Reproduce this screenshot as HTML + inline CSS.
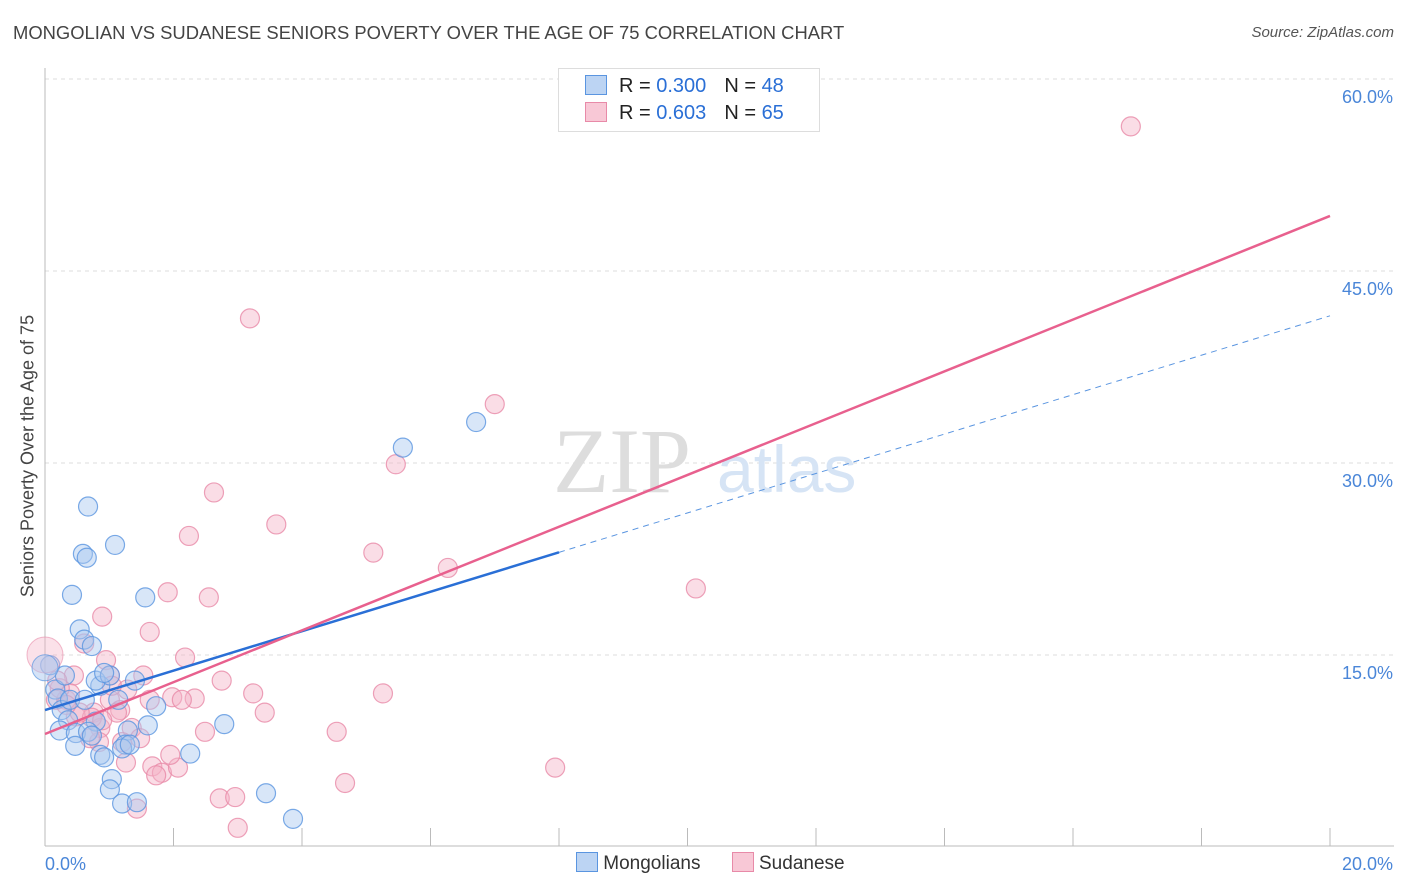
<!DOCTYPE html>
<html><head><meta charset="utf-8"><style>
body{margin:0;background:#fff;font-family:"Liberation Sans",sans-serif;}
#wrap{position:relative;width:1406px;height:892px;overflow:hidden;}
.t{position:absolute;white-space:nowrap;}
</style></head><body>
<div id="wrap">
<div class="t" style="left:13px;top:22px;font-size:18.4px;color:#444;">MONGOLIAN VS SUDANESE SENIORS POVERTY OVER THE AGE OF 75 CORRELATION CHART</div>
<div class="t" style="right:12px;top:24px;font-size:15px;color:#555;font-style:italic;">Source: ZipAtlas.com</div>
<div class="t" style="left:28px;top:456px;font-size:18px;color:#444;transform:translate(-50%,-50%) rotate(-90deg);">Seniors Poverty Over the Age of 75</div>
<svg id="svg" width="1406" height="892" style="position:absolute;left:0;top:0"></svg>
</div>
<script>
const yTicks=[15,30,45,60];
const yTickLabels=["15.0%","30.0%","45.0%","60.0%"];
const xTicks=[0,2,4,6,8,10,12,14,16,18,20];
const mongX=[0.67,1.09,0.59,0.65,0.42,1.56,0.54,0.61,0.73,0.08,0.16,0.31,0.86,0.79,1.01,0.92,1.40,0.20,0.26,0.36,0.79,1.60,0.23,0.48,0.67,0.73,1.29,1.73,2.79,0.47,1.25,1.20,0.86,0.92,2.26,1.04,1.01,1.20,1.43,3.44,3.86,5.57,6.71,1.32,1.14,0.39,0.62];
const mongY=[26.6,23.6,22.9,22.6,19.7,19.5,17.0,16.2,15.7,14.2,12.3,13.4,12.6,13.0,13.4,13.6,13.0,11.6,10.7,9.9,9.8,9.5,9.1,8.9,9.0,8.7,9.1,11.0,9.6,7.9,8.0,7.7,7.2,7.0,7.3,5.3,4.5,3.4,3.5,4.2,2.2,31.2,33.2,8.0,11.5,11.5,11.5];
const sudX=[16.90,3.19,7.00,5.46,2.63,3.60,2.24,5.11,6.27,10.13,1.91,2.55,0.89,1.63,0.61,2.18,0.95,0.45,1.53,1.01,1.28,2.75,3.24,5.26,0.17,1.98,2.33,2.13,0.33,0.39,1.01,1.17,1.12,0.76,3.42,0.48,0.86,1.35,0.84,2.49,4.54,1.20,0.70,1.48,1.26,1.67,1.82,1.73,2.07,4.67,2.72,2.96,7.94,3.00,1.43,0.73,1.04,0.23,0.54,0.19,1.63,1.95,0.89,0.33];
const sudY=[56.3,41.3,34.6,29.9,27.7,25.2,24.3,23.0,21.8,20.2,19.9,19.5,18.0,16.8,15.9,14.8,14.6,13.4,13.4,13.4,12.3,13.0,12.0,12.0,11.5,11.7,11.6,11.5,11.5,12.0,11.5,10.7,10.5,10.5,10.5,10.2,9.3,9.3,8.2,9.0,9.0,8.2,8.5,8.5,6.6,6.3,5.8,5.6,6.2,5.0,3.8,3.9,6.2,1.5,3.0,10.1,12.6,12.4,10.5,13.0,11.5,7.2,9.9,11.1];
const mongBig=[[0,14.0]];
const sudBig=[[0,15.0]];
const mongLine=[10.7,41.5];
const sudLine=[8.83,49.3];
const X=v=>45+v*64.25, Y=v=>847-v*12.8;
const svg=document.getElementById('svg');
const NS='http://www.w3.org/2000/svg';
function mk(t,a){const e=document.createElementNS(NS,t);for(const k in a)e.setAttribute(k,a[k]);svg.appendChild(e);return e;}
yTicks.forEach((v,i)=>{
 const g=mk('line',{x1:45,x2:1394,y1:Y(v),y2:Y(v),stroke:'#ddd','stroke-dasharray':'4,4'});
 
 
 const t=mk('text',{x:1393,y:Y(v)+24,'text-anchor':'end','font-size':18,fill:'#4a86d8','font-family':'Liberation Sans'});
 t.textContent=yTickLabels[i];
 
 
});
const ax=mk('line',{x1:45,x2:45,y1:68,y2:846,stroke:'#bbb'});


const bx=mk('line',{x1:45,x2:1394,y1:846,y2:846,stroke:'#bbb'});


xTicks.forEach(v=>{const l=mk('line',{x1:X(v),x2:X(v),y1:828,y2:846,stroke:'#bbb'});
 
 });
[['0.0%',45,'start'],['20.0%',1393,'end']].forEach(a=>{const t=mk('text',{x:a[1],y:870,'text-anchor':a[2],'font-size':18,fill:'#4a86d8','font-family':'Liberation Sans'});t.textContent=a[0];
 
 });
const w1=mk('text',{x:553,y:492,'font-size':92,fill:'#ddd','font-family':'Liberation Serif'});w1.textContent='ZIP';


const w2=mk('text',{x:717,y:492,'font-size':66,fill:'#d6e4f5','font-family':'Liberation Sans'});w2.textContent='atlas';


function dots(xs,ys,fill,stroke,name){xs.forEach((x,i)=>{const c=mk('circle',{cx:X(x),cy:Y(ys[i]),r:9.5,fill:fill,'fill-opacity':0.45,stroke:stroke,'stroke-opacity':0.8,'stroke-width':1.2});
 
 });}
dots(sudX,sudY,'#f5b3c8','#e88aa8','sudanese-point');
dots(mongX,mongY,'#a9c8f0','#5a95e0','mongolian-point');
sudBig.forEach(p=>{const c=mk('circle',{cx:X(p[0]),cy:Y(p[1]),r:18,fill:'#f5b3c8','fill-opacity':0.4,stroke:'#e88aa8','stroke-opacity':0.6});
 
 });
mongBig.forEach(p=>{const c=mk('circle',{cx:X(p[0]),cy:Y(p[1]),r:13,fill:'#a9c8f0','fill-opacity':0.5,stroke:'#5a95e0','stroke-opacity':0.7});
 
 });
const mAt=x=>mongLine[0]+(mongLine[1]-mongLine[0])*x/20;
const l1=mk('line',{x1:X(0),y1:Y(mAt(0)),x2:X(8),y2:Y(mAt(8)),stroke:'#2a6fd6','stroke-width':2.5});


const l2=mk('line',{x1:X(8),y1:Y(mAt(8)),x2:X(20),y2:Y(mAt(20)),stroke:'#5a95e0','stroke-width':1,'stroke-dasharray':'6,5'});


const l3=mk('line',{x1:X(0),y1:Y(sudLine[0]),x2:X(20),y2:Y(sudLine[1]),stroke:'#e8608e','stroke-width':2.5});


</script>
<div class="t" style="left:558px;top:68px;width:260px;height:62px;border:1px solid #ddd;background:#fff;font-size:20px;">
 <div style="position:absolute;left:26px;top:6px;"><span style="display:inline-block;width:20px;height:18px;background:#bcd4f3;border:1px solid #5a95e0;vertical-align:-3px;"></span><span style="margin-left:12px;color:#222">R = </span><span style="color:#2a6fd6">0.300</span><span style="margin-left:18px;color:#222">N = </span><span style="color:#2a6fd6">48</span></div>
 <div style="position:absolute;left:26px;top:33px;"><span style="display:inline-block;width:20px;height:18px;background:#f8c8d6;border:1px solid #e88aa8;vertical-align:-3px;"></span><span style="margin-left:12px;color:#222">R = </span><span style="color:#2a6fd6">0.603</span><span style="margin-left:18px;color:#222">N = </span><span style="color:#2a6fd6">65</span></div>
</div>
<div class="t" style="left:576px;top:852px;font-size:19px;color:#333;">
 <span><span style="display:inline-block;width:20px;height:18px;background:#bcd4f3;border:1px solid #5a95e0;vertical-align:-3px;"></span> Mongolians</span>
 <span style="margin-left:26px;"><span style="display:inline-block;width:20px;height:18px;background:#f8c8d6;border:1px solid #e88aa8;vertical-align:-3px;"></span> Sudanese</span>
</div>
</body></html>
